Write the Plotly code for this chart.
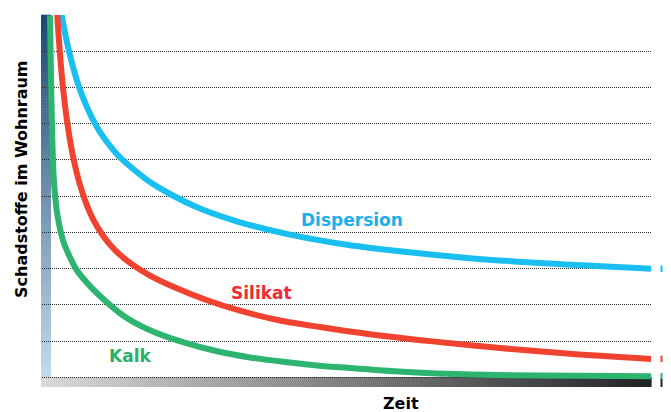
import plotly.graph_objects as go

# ---- data (y in units of gridline steps) ----
disp_t = [1.75, 2.5, 3.17, 4.0, 4.83, 5.83, 6.83, 8.17, 9.83, 11.5, 14.0, 16.5, 19.83,
          24.83, 31.5, 39.83, 48.17, 58.17, 69.83, 83.17, 100.0]
disp_v = [10.03, 9.37, 8.88, 8.37, 7.94, 7.52, 7.16, 6.77, 6.39, 6.07, 5.71, 5.39, 5.06,
          4.66, 4.28, 3.94, 3.69, 3.48, 3.29, 3.14, 3.00]

sil_t = [1.03, 1.5, 2.0, 2.67, 3.5, 4.5, 5.67, 7.0, 8.67, 10.67, 13.17, 16.5, 20.67,
         25.67, 31.5, 38.17, 44.83, 53.17, 63.17, 74.83, 86.5, 100.0]
sil_v = [10.02, 8.91, 8.0, 7.08, 6.24, 5.51, 4.89, 4.37, 3.91, 3.51, 3.16, 2.81, 2.48,
         2.15, 1.84, 1.57, 1.39, 1.19, 1.00, 0.81, 0.65, 0.51]

kalk_t = [-0.17, 0.0, 0.17, 0.33, 0.5, 0.75, 1.0, 2.0, 3.0, 4.33, 6.0, 7.67, 12.0, 16.5,
          22.0, 27.67, 33.17, 38.67, 44.33, 49.83, 59.33, 70.33, 81.5, 100.0]
kalk_v = [9.99, 8.28, 6.90, 5.96, 5.38, 4.91, 4.55, 3.78, 3.37, 2.95, 2.61, 2.32, 1.71, 1.30,
          0.97, 0.72, 0.55, 0.43, 0.33, 0.26, 0.15, 0.08, 0.05, 0.03]

series_names = ["Dispersion", "Silikat", "Kalk"]
line_colors = ["#19BFF0", "#F0432F", "#2DB56F"]
label_colors = ["#1AB0EA", "#EE2A33", "#2BB06A"]
label_pos = [(50.2, 4.33), (35.0, 2.33), (13.2, 0.59)]

y_title = "Schadstoffe im Wohnraum"
x_title = "Zeit"

# ---- layout geometry (pixels) ----
W, H = 671, 412
L, R, T, B = 42, 20, 15, 31
PW = W - L - R
PH = H - T - B


def px(xp):
    return (xp - L) / PW


def py(yp):
    return (H - B - yp) / PH


def hexrgb(h):
    h = h.lstrip("#")
    return tuple(int(h[i:i + 2], 16) for i in (0, 2, 4))


def mix(c1, c2, t):
    a, b = hexrgb(c1), hexrgb(c2)
    return "rgb(%d,%d,%d)" % tuple(round(a[i] + (b[i] - a[i]) * t) for i in range(3))


fig = go.Figure()
data = [(disp_t, disp_v), (sil_t, sil_v), (kalk_t, kalk_v)]
for (t, v), name, col in zip(data, series_names, line_colors):
    fig.add_trace(go.Scatter(x=t, y=v, mode="lines", name=name,
                             line=dict(color=col, width=6, shape="spline", smoothing=0.8),
                             hoverinfo="skip"))

shapes = []
# vertical gradient bar (y axis)
n = 120
y0p, y1p = 14.7, 377.0
for i in range(n):
    a = y0p + (y1p - y0p) * i / n
    b = y0p + (y1p - y0p) * (i + 1) / n
    shapes.append(dict(type="rect", xref="paper", yref="paper",
                       x0=px(41), x1=px(51), y0=py(b + 0.6), y1=py(a),
                       fillcolor=mix("#1B4870", "#C3DBEE", (i + 0.5) / n),
                       line=dict(width=0), layer="between"))
# horizontal gradient bar (x axis)
m = 150
x0p, x1p = 41.0, 651.0
for i in range(m):
    a = x0p + (x1p - x0p) * i / m
    b = x0p + (x1p - x0p) * (i + 1) / m
    shapes.append(dict(type="rect", xref="paper", yref="paper",
                       x0=px(a), x1=px(b + 0.6), y0=py(387), y1=py(377),
                       fillcolor=mix("#DADADA", "#202224", (i + 0.5) / m),
                       line=dict(width=0), layer="between"))
# small stubs at right edge
for v, col in zip([disp_v[-1], sil_v[-1], kalk_v[-1]], line_colors):
    shapes.append(dict(type="line", xref="paper", yref="y",
                       x0=px(661.5), x1=px(661.5), y0=v - 0.09, y1=v + 0.09,
                       line=dict(color=col, width=2)))
shapes.append(dict(type="line", xref="paper", yref="paper",
                   x0=px(661.5), x1=px(661.5), y0=py(387), y1=py(379),
                   line=dict(color="#222222", width=2)))

annotations = []
for (lx, ly), name, col in zip(label_pos, series_names, label_colors):
    annotations.append(dict(x=lx, y=ly, xref="x", yref="y", text=name, showarrow=False,
                            font=dict(family="DejaVu Sans", size=17, color=col, weight="bold"),
                            xanchor="center", yanchor="middle"))
annotations.append(dict(x=px(21), y=py(179), xref="paper", yref="paper", text=y_title,
                        textangle=-90, showarrow=False,
                        font=dict(family="DejaVu Sans", size=16, color="#000", weight="bold"),
                        xanchor="center", yanchor="middle"))
annotations.append(dict(x=px(401), y=py(403.5), xref="paper", yref="paper", text=x_title,
                        showarrow=False,
                        font=dict(family="DejaVu Sans", size=16, color="#000", weight="bold"),
                        xanchor="center", yanchor="middle"))

fig.update_layout(
    width=W, height=H,
    margin=dict(l=L, r=R, t=T, b=B, pad=0),
    paper_bgcolor="white", plot_bgcolor="rgba(0,0,0,0)",
    showlegend=False,
    shapes=shapes, annotations=annotations,
    xaxis=dict(range=[-1.5, 100], showgrid=False, zeroline=False, showline=False,
               showticklabels=False, ticks="", fixedrange=True),
    yaxis=dict(range=[-0.1, 10], dtick=1, tick0=0, showgrid=True, gridcolor="#2a2a2a",
               gridwidth=1, griddash="1px,1px", zeroline=False, showline=False,
               showticklabels=False, ticks="", fixedrange=True),
)

fig.write_html("out.html", config={"displayModeBar": False},
               post_script="document.body.style.margin='0';document.body.style.padding='0';")
